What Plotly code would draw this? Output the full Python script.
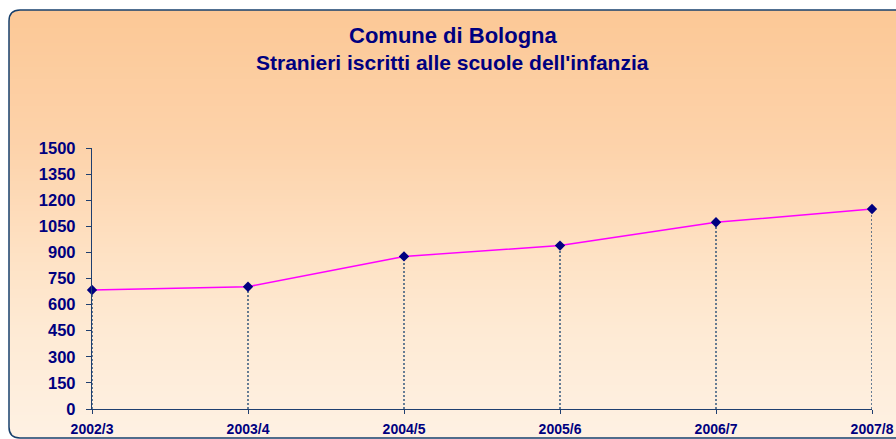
import plotly.graph_objects as go

# ---- data ----
years = ["2002/3", "2003/4", "2004/5", "2005/6", "2006/7", "2007/8"]
students = [684, 703, 877, 939, 1073, 1149]
y_ticks = [0, 150, 300, 450, 600, 750, 900, 1050, 1200, 1350, 1500]
title_text = "Comune di Bologna"
subtitle_text = "Stranieri iscritti alle scuole dell'infanzia"

# ---- geometry helpers (screen pixels -> paper) ----
W, H = 896, 439
L, T = 92, 148
R = W - 872
B = H - 409
PW, PH = W - L - R, H - T - B


def px(x):
    return (x - L) / PW


def py(y):
    return (H - B - y) / PH


NAVY = "#000080"
AXIS = "#1F3F6F"
FONT = "Liberation Sans, Arial, sans-serif"

# background gradient stops (screen y, rgb)
stops = [(10, (252, 200, 150)), (150, (253, 211, 171)), (250, (254, 225, 195)),
         (330, (254, 234, 212)), (438, (254, 241, 227))]


def col_at(y):
    for (y0, c0), (y1, c1) in zip(stops[:-1], stops[1:]):
        if y0 <= y <= y1:
            t = (y - y0) / (y1 - y0)
            return "rgb(%d,%d,%d)" % tuple(round(a + (b - a) * t) for a, b in zip(c0, c1))
    return "rgb(%d,%d,%d)" % stops[-1][1]


shapes = []
FX0, FX1, FY0, FY1 = 9, 905, 10, 438
step = 3
y = FY0
while y < FY1:
    y2 = min(y + step, FY1)
    shapes.append(dict(type="rect", xref="paper", yref="paper", layer="below",
                       x0=px(FX0), x1=px(FX1), y0=py(y2 + 0.5), y1=py(y),
                       fillcolor=col_at(y + step / 2), line=dict(width=0)))
    y = y2

r = 11
tl = "M %f,%f L %f,%f Q %f,%f %f,%f Z" % (px(FX0 - 1), py(FY0 - 1), px(FX0 + r), py(FY0 - 1),
                                          px(FX0), py(FY0), px(FX0 - 1), py(FY0 + r))
bl = "M %f,%f L %f,%f Q %f,%f %f,%f Z" % (px(FX0 - 1), py(FY1 + 1), px(FX0 + r), py(FY1 + 1),
                                          px(FX0), py(FY1), px(FX0 - 1), py(FY1 - r))
for p in (tl, bl):
    shapes.append(dict(type="path", xref="paper", yref="paper", layer="below", path=p,
                       fillcolor="white", line=dict(width=0)))
border = ("M %f,%f L %f,%f Q %f,%f %f,%f L %f,%f Q %f,%f %f,%f L %f,%f" % (
    px(FX1), py(FY0), px(FX0 + r), py(FY0), px(FX0), py(FY0), px(FX0), py(FY0 + r),
    px(FX0), py(FY1 - r), px(FX0), py(FY1), px(FX0 + r), py(FY1), px(FX1), py(FY1)))
shapes.append(dict(type="path", xref="paper", yref="paper", layer="below", path=border,
                   line=dict(color="#17406D", width=1.5)))

# ---- traces ----
drop_x, drop_y = [], []
for cat, v in zip(years, students):
    drop_x += [cat, cat, None]
    drop_y += [0, v, None]

fig = go.Figure()
fig.add_trace(go.Scatter(x=drop_x, y=drop_y, mode="lines", hoverinfo="skip",
                         line=dict(color="#003366", width=1.2, dash="2px,2px"),
                         showlegend=False, cliponaxis=False))
fig.add_trace(go.Scatter(x=years, y=students, mode="lines+markers",
                         line=dict(color="#FF00FF", width=1.5),
                         marker=dict(symbol="diamond", size=8, color=NAVY),
                         showlegend=False, cliponaxis=False))

annotations = [
    dict(text=title_text, xref="paper", yref="paper", x=px(453), y=py(36),
         xanchor="center", yanchor="middle", showarrow=False,
         font=dict(family=FONT, size=22, color=NAVY, weight="bold")),
    dict(text=subtitle_text, xref="paper", yref="paper", x=px(452), y=py(62),
         xanchor="center", yanchor="middle", showarrow=False,
         font=dict(family=FONT, size=21, color=NAVY, weight="bold")),
]

fig.update_layout(
    width=W, height=H,
    margin=dict(l=L, r=R, t=T, b=B, pad=0, autoexpand=False),
    paper_bgcolor="white", plot_bgcolor="rgba(0,0,0,0)",
    shapes=shapes, annotations=annotations,
    showlegend=False,
    xaxis=dict(type="category", categoryorder="array", categoryarray=years,
               range=[0, 5], showgrid=False, zeroline=False, automargin=False,
               showline=True, linecolor=AXIS, linewidth=1.3,
               ticks="outside", ticklen=4, tickcolor=AXIS, tickwidth=1.3,
               tickfont=dict(family=FONT, size=14, color=NAVY, weight="bold"),
               ticklabelstandoff=3),
    yaxis=dict(range=[0, 1500], tickvals=y_ticks, showgrid=False, zeroline=False,
               automargin=False,
               showline=True, linecolor=AXIS, linewidth=1.3,
               ticks="outside", ticklen=5, tickcolor=AXIS, tickwidth=1.3,
               tickfont=dict(family=FONT, size=16.5, color=NAVY, weight="bold"),
               ticklabelstandoff=7),
)

fig.write_html(
    "out.html",
    config={"displayModeBar": False},
    post_script="document.body.style.margin='0';document.body.style.overflow='hidden';",
)
